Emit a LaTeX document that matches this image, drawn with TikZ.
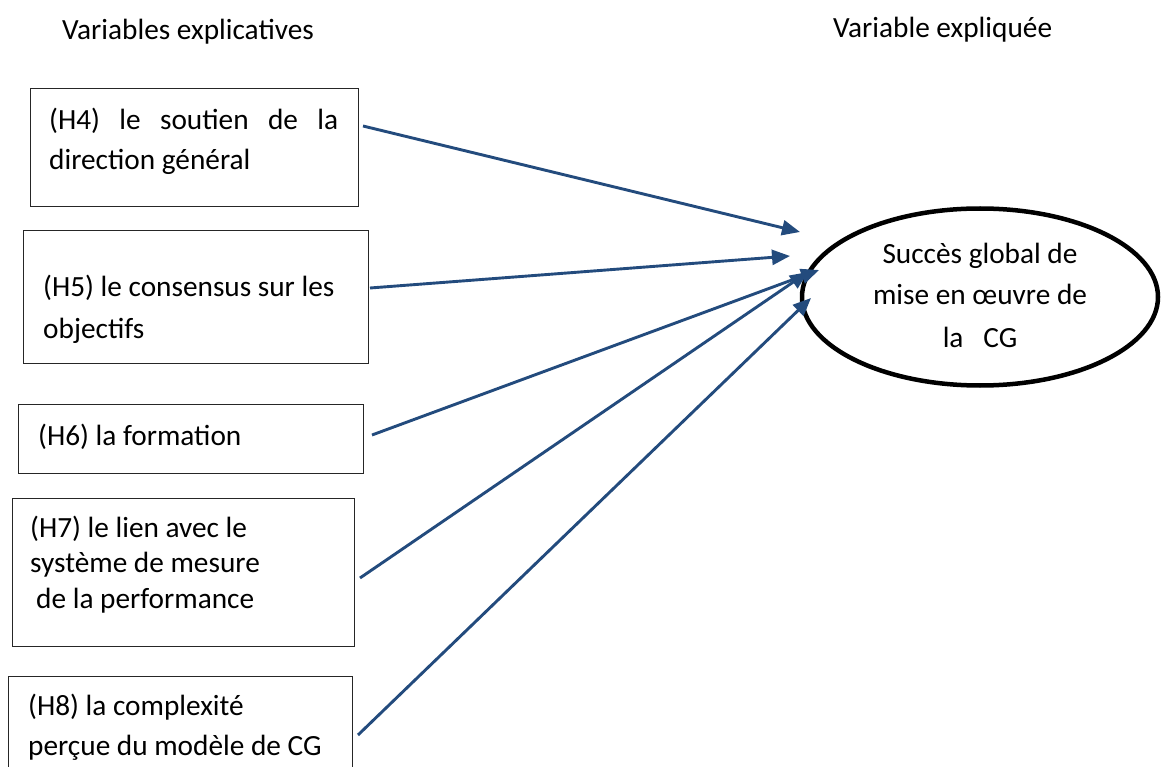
\documentclass[tikz,border=0pt]{standalone}
\usepackage{fontspec}
\setmainfont{Carlito}
\usetikzlibrary{arrows.meta,shapes.geometric}
\definecolor{arrowblue}{RGB}{35,75,125}
\tikzset{
  boxstyle/.style={draw=black!85, line width=1pt, rectangle, anchor=north west, inner sep=0pt},
  txt/.style={anchor=base west, inner sep=0pt, font=\fontsize{29.3}{40}\selectfont},
  ctxt/.style={anchor=base, inner sep=0pt, font=\fontsize{29.3}{40}\selectfont},
  link/.style={draw=arrowblue, line width=2.9pt, -{Triangle[length=18pt,width=15pt]}},
}
\begin{document}
\begin{tikzpicture}[x=1pt,y=-1pt]
\useasboundingbox (0,0) rectangle (1162,767);
\clip (0,0) rectangle (1162,767);
% headings
\node[txt] (hl) at (62,40) {Variables explicatives};
\node[txt] (hr) at (833,38) {Variable expliquée};
% boxes
\node[boxstyle, minimum width=328pt, minimum height=118pt] (b4) at (30,88) {};
\node[boxstyle, minimum width=345pt, minimum height=133pt] (b5) at (23,230) {};
\node[boxstyle, minimum width=345pt, minimum height=69pt] (b6) at (18,404) {};
\node[boxstyle, minimum width=342pt, minimum height=148pt] (b7) at (12,498) {};
\node[boxstyle, minimum width=344pt, minimum height=124pt] (b8) at (8,676) {};
% box texts
\node[txt] (t4a) at (49,130) {\makebox[289pt][s]{(H4) le soutien de la}};
\node[txt] (t4b) at (49,170) {direction général};
\node[txt] (t5a) at (43,297) {(H5) le consensus sur les};
\node[txt] (t5b) at (43,338) {objectifs};
\node[txt] (t6) at (38,445) {(H6) la formation};
\node[txt] (t7a) at (30,537) {(H7) le lien avec le};
\node[txt] (t7b) at (30,572) {système de mesure};
\node[txt] (t7c) at (36,608) {de la performance};
\node[txt] (t8a) at (28,715) {(H8) la complexité};
\node[txt] (t8b) at (28,755) {perçue du modèle de CG};
% ellipse
\node[draw=black, line width=4.5pt, ellipse, minimum width=356pt, minimum height=177pt, inner sep=0pt] (e) at (980,297) {};
\node[ctxt] (e1) at (980,264) {Succès global de};
\node[ctxt] (e2) at (980,305) {mise en œuvre de};
\node[ctxt] (e3) at (980,347) {la\ \ \ CG};
% arrow endpoints
\coordinate (s4) at (363,126);
\coordinate (s5) at (370,288);
\coordinate (s6) at (372,435);
\coordinate (s7) at (360,578);
\coordinate (s8) at (358,735);
\coordinate (e4) at (800,232);
\coordinate (e5) at (790,256);
\coordinate (e6) at (819,270);
\coordinate (e7) at (808,272);
\coordinate (e8) at (811,298);
\draw[link] (s4) -- (e4);
\draw[link] (s5) -- (e5);
\draw[link] (s6) -- (e6);
\draw[link] (s7) -- (e7);
\draw[link] (s8) -- (e8);
\end{tikzpicture}
\end{document}
